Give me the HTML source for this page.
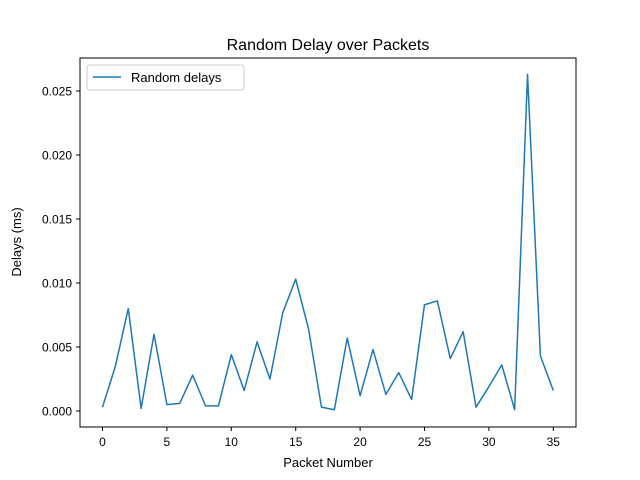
<!DOCTYPE html>
<html><head><meta charset="utf-8"><style>
body{margin:0;background:#fff;}
svg{display:block;font-family:"Liberation Sans","DejaVu Sans",sans-serif;}
</style></head><body>
<svg id="chart" width="640" height="480" xmlns="http://www.w3.org/2000/svg">
<rect width="640" height="480" fill="#fff"/>
<text x="328" y="50" font-size="16" text-anchor="middle">Random Delay over Packets</text>
<g id="xt"></g>
<g id="yt"></g>
<text x="328" y="467" font-size="13" text-anchor="middle">Packet Number</text>
<text x="21" y="242" font-size="13" text-anchor="middle" transform="rotate(-90 21 242)">Delays (ms)</text>
<polyline id="line" fill="none" stroke="#1f77b4" stroke-width="1.5" stroke-linejoin="round"/>
<rect x="80" y="58" width="496" height="369" fill="none" stroke="#000" stroke-width="1"/>
<g>
<rect x="87" y="65" width="157" height="25" rx="3" fill="#fff" stroke="#ccc"/>
<line x1="93" y1="77" x2="121" y2="77" stroke="#1f77b4" stroke-width="1.5"/>
<text x="131" y="82" font-size="13">Random delays</text>
</g>
</svg>
<script>
const packets=[0,1,2,3,4,5,6,7,8,9,10,11,12,13,14,15,16,17,18,19,20,21,22,23,24,25,26,27,28,29,30,31,32,33,34,35];
const delays=[0.0003,0.0035,0.0080,0.0002,0.0060,0.0005,0.0006,0.0028,0.0004,0.0004,0.0044,0.0016,0.0054,0.0025,0.0077,0.0103,0.0064,0.0003,0.0001,0.0057,0.0012,0.0048,0.0013,0.0030,0.0009,0.0083,0.0086,0.0041,0.0062,0.0003,0.0019,0.0036,0.0001,0.0263,0.0043,0.0016];
const xTicks=[0,5,10,15,20,25,30,35];
const yTicks=[0,0.005,0.010,0.015,0.020,0.025];
const yLabels=["0.000","0.005","0.010","0.015","0.020","0.025"];
const NS="http://www.w3.org/2000/svg";
const x=v=>102.5+v*12.88;
const y=v=>411-v/0.025*320;
document.getElementById('line').setAttribute('points',packets.map((p,i)=>x(p)+','+y(delays[i])).join(' '));
const xt=document.getElementById('xt');
xTicks.forEach(t=>{
 const l=document.createElementNS(NS,'line');
 l.setAttribute('x1',x(t));l.setAttribute('x2',x(t));l.setAttribute('y1',427);l.setAttribute('y2',431);l.setAttribute('stroke','#000');
 
 
 xt.appendChild(l);
 const tx=document.createElementNS(NS,'text');
 tx.setAttribute('x',x(t));tx.setAttribute('y',446);tx.setAttribute('font-size','12');tx.setAttribute('text-anchor','middle');tx.textContent=t;
 
 
 xt.appendChild(tx);
});
const yt=document.getElementById('yt');
yTicks.forEach((t,i)=>{
 const l=document.createElementNS(NS,'line');
 l.setAttribute('x1',76);l.setAttribute('x2',80);l.setAttribute('y1',y(t));l.setAttribute('y2',y(t));l.setAttribute('stroke','#000');
 
 
 yt.appendChild(l);
 const tx=document.createElementNS(NS,'text');
 tx.setAttribute('x',72);tx.setAttribute('y',y(t)+4.5);tx.setAttribute('font-size','12');tx.setAttribute('text-anchor','end');tx.textContent=yLabels[i];
 
 
 yt.appendChild(tx);
});
</script>
</body></html>
